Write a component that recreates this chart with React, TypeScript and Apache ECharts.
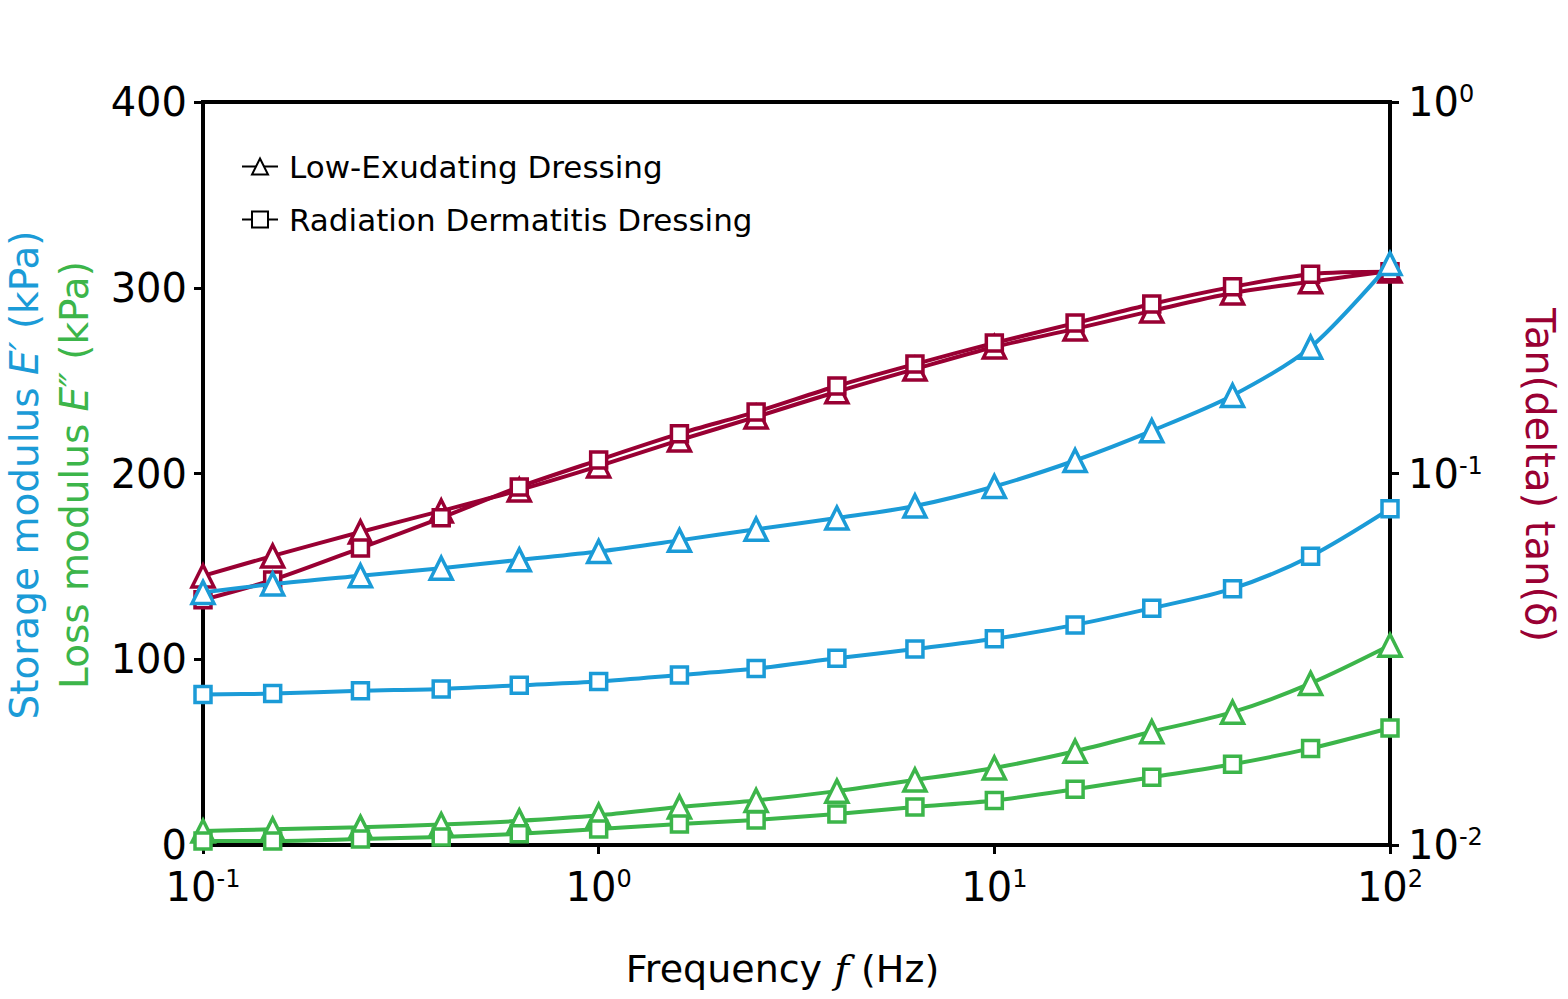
import React, { useEffect, useRef } from 'react';
import * as echarts from 'echarts';

const frequency = [0.1, 0.15, 0.25, 0.4, 0.63, 1, 1.6, 2.5, 4, 6.3, 10, 16, 25, 40, 63, 100];

const storageLow = [136, 140.5, 145, 149, 153.5, 158, 164, 170, 176, 182.5, 193, 207, 223, 242, 268, 313];
const storageRad = [81, 81.5, 83, 84, 86, 88, 91.5, 95, 100.5, 105.5, 111, 118.5, 127.5, 138, 155.5, 181];
const lossLow = [7.5, 8.5, 9.5, 11, 13, 16, 20.5, 24, 29, 35, 41.5, 50.5, 61, 71.5, 87, 107.5];
const lossRad = [2.2, 2.2, 3.2, 4.3, 6, 8.6, 11.3, 13.5, 16.7, 20.5, 24, 30, 36.5, 43.5, 52, 63];
const tanLow = [0.053, 0.06, 0.0696, 0.0793, 0.0903, 0.1047, 0.123, 0.142, 0.166, 0.191, 0.219, 0.245, 0.274, 0.306, 0.328, 0.351];
const tanRad = [0.0457, 0.0517, 0.063, 0.076, 0.092, 0.1087, 0.128, 0.1465, 0.172, 0.197, 0.2245, 0.254, 0.286, 0.318, 0.344, 0.349];

const legendNames = ['Low-Exudating Dressing', 'Radiation Dermatitis Dressing'];

const BLUE = '#1b9bd7';
const GREEN = '#3cb54a';
const RED = '#990033';
const FONT = 'DejaVu Sans';

const pairs = (ys: number[]) => frequency.map((f, i) => [f, ys[i]]);

const powLabel = (v: number) => {
  const e = Math.round(Math.log10(v));
  return `{b|10}{s|${e}}`;
};

const powRich = {
  b: { fontSize: 40, fontFamily: FONT, color: '#000' },
  s: { fontSize: 24, fontFamily: FONT, color: '#000', verticalAlign: 'top', padding: [0, 0, 16, 0] }
};

const makeSeries = (
  name: string,
  data: number[],
  color: string,
  symbol: string,
  yAxisIndex: number
) => ({
  name,
  type: 'line',
  yAxisIndex,
  data: pairs(data),
  smooth: 0.3,
  symbol,
  symbolSize: symbol === 'triangle' ? 22 : 16,
  color,
  lineStyle: { color, width: 4 },
  itemStyle: { color: '#fff', borderColor: color, borderWidth: 3.5 },
  z: yAxisIndex === 1 ? 4 : 3
});

const App: React.FC = () => {
  const chartRef = useRef<HTMLDivElement>(null);

  useEffect(() => {
    if (!chartRef.current) return;
    const chart = echarts.init(chartRef.current, undefined, { renderer: 'svg' });

    const option = {
      animation: false,
      backgroundColor: '#fff',
      grid: {
        left: 203,
        right: 178,
        top: 102,
        bottom: 154,
        show: true,
        borderColor: '#000',
        borderWidth: 4
      },
      legend: {
        data: legendNames,
        orient: 'vertical',
        left: 236,
        top: 146,
        itemWidth: 36,
        itemHeight: 20,
        itemGap: 22,
        textStyle: { fontSize: 31, fontFamily: FONT, color: '#000', padding: [0, 0, 0, 6] }
      },
      xAxis: {
        type: 'log',
        logBase: 10,
        min: 0.1,
        max: 100,
        name: '{t|Frequency }{i|f}{t| (Hz)}',
        nameLocation: 'middle',
        nameGap: 104,
        nameTextStyle: {
          padding: [0, 28, 0, 0],
          rich: {
            t: { fontSize: 38, fontFamily: FONT, color: '#000' },
            i: { fontSize: 40, fontFamily: 'DejaVu Serif', fontStyle: 'italic', color: '#000' }
          }
        },
        axisLine: { lineStyle: { color: '#000', width: 4 } },
        axisTick: { show: true, length: 9, lineStyle: { color: '#000', width: 3 } },
        minorTick: { show: false },
        splitLine: { show: false },
        axisLabel: { formatter: powLabel, rich: powRich, margin: 22 }
      },
      yAxis: [
        {
          type: 'value',
          min: 0,
          max: 400,
          interval: 100,
          axisLine: { show: true, lineStyle: { color: '#000', width: 4 } },
          axisTick: { show: true, length: 9, lineStyle: { color: '#000', width: 3 } },
          splitLine: { show: false },
          axisLabel: { fontSize: 40, fontFamily: FONT, color: '#000', margin: 16 }
        },
        {
          type: 'log',
          logBase: 10,
          min: 0.01,
          max: 1,
          position: 'right',
          axisLine: { show: true, lineStyle: { color: '#000', width: 4 } },
          axisTick: { show: true, length: 9, lineStyle: { color: '#000', width: 3 } },
          minorTick: { show: false },
          splitLine: { show: false },
          axisLabel: { formatter: powLabel, rich: powRich, margin: 18 }
        }
      ],
      graphic: [
        {
          type: 'text',
          x: 24,
          y: 475,
          rotation: Math.PI / 2,
          style: {
            text: '{t|Storage modulus }{i|E′}{t| (kPa)}',
            align: 'center',
            verticalAlign: 'middle',
            rich: {
              t: { fontSize: 39, fontFamily: FONT, fill: BLUE },
              i: { fontSize: 39, fontFamily: FONT, fontStyle: 'italic', fill: BLUE }
            }
          }
        },
        {
          type: 'text',
          x: 74,
          y: 475,
          rotation: Math.PI / 2,
          style: {
            text: '{t|Loss modulus }{i|E″}{t| (kPa)}',
            align: 'center',
            verticalAlign: 'middle',
            rich: {
              t: { fontSize: 39, fontFamily: FONT, fill: GREEN },
              i: { fontSize: 39, fontFamily: FONT, fontStyle: 'italic', fill: GREEN }
            }
          }
        },
        {
          type: 'text',
          x: 1540,
          y: 475,
          rotation: -Math.PI / 2,
          style: {
            text: 'Tan(delta) tan(δ)',
            align: 'center',
            verticalAlign: 'middle',
            fontSize: 40,
            fontFamily: FONT,
            fill: RED
          }
        }
      ],
      series: [
        makeSeries('E″ Low', lossLow, GREEN, 'triangle', 0),
        makeSeries('E″ Rad', lossRad, GREEN, 'rect', 0),
        makeSeries('E′ Rad', storageRad, BLUE, 'rect', 0),
        makeSeries('tan Low', tanLow, RED, 'triangle', 1),
        makeSeries('tan Rad', tanRad, RED, 'rect', 1),
        { ...makeSeries('E′ Low', storageLow, BLUE, 'triangle', 0), z: 5 },
        {
          name: legendNames[0],
          type: 'line',
          data: [],
          symbol: 'triangle',
          symbolSize: 18,
          color: '#000',
          lineStyle: { color: '#000', width: 4 },
          itemStyle: { color: '#fff', borderColor: '#000', borderWidth: 3 }
        },
        {
          name: legendNames[1],
          type: 'line',
          data: [],
          symbol: 'rect',
          symbolSize: 14,
          color: '#000',
          lineStyle: { color: '#000', width: 4 },
          itemStyle: { color: '#fff', borderColor: '#000', borderWidth: 3 }
        }
      ]
    };

    chart.setOption(option);

    const handleResize = () => chart.resize();
    window.addEventListener('resize', handleResize);
    return () => {
      window.removeEventListener('resize', handleResize);
      chart.dispose();
    };
  }, []);

  return (
    <div
      ref={chartRef}
      style={{ position: 'fixed', left: 0, top: 0, width: 1568, height: 999 }}
    />
  );
};

export default App;
